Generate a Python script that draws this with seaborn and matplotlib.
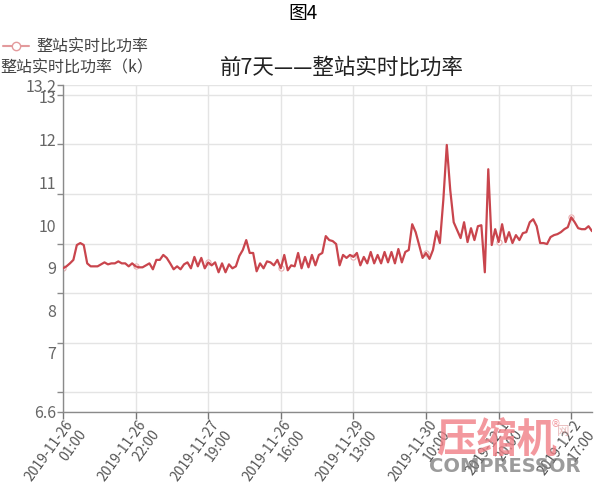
import matplotlib
matplotlib.use("Agg")
import matplotlib.pyplot as plt
import matplotlib.transforms as mtransforms
import seaborn as sns
import numpy as np
import pandas as pd
from matplotlib.ticker import FixedLocator, NullFormatter, FixedFormatter
from matplotlib.lines import Line2D

# ---- data (hourly whole-station specific power) ----
ratio = [
    9.50, 9.54, 9.60, 9.67, 9.97, 10.01, 9.97, 9.60, 9.54, 9.54,
    9.54, 9.58, 9.62, 9.58, 9.60, 9.60, 9.64, 9.60, 9.60, 9.54,
    9.60, 9.54, 9.52, 9.52, 9.56, 9.60, 9.48, 9.67, 9.67, 9.77,
    9.71, 9.60, 9.48, 9.54, 9.48, 9.58, 9.62, 9.50, 9.73, 9.54,
    9.71, 9.50, 9.62, 9.56, 9.62, 9.42, 9.60, 9.42, 9.58, 9.50,
    9.54, 9.75, 9.87, 10.07, 9.81, 9.81, 9.44, 9.60, 9.50, 9.64,
    9.62, 9.56, 9.67, 9.50, 9.77, 9.46, 9.56, 9.54, 9.81, 9.50,
    9.73, 9.52, 9.77, 9.56, 9.77, 9.81, 10.15, 10.07, 10.05, 9.99,
    9.56, 9.77, 9.71, 9.77, 9.73, 9.81, 9.56, 9.73, 9.60, 9.83,
    9.60, 9.77, 9.60, 9.83, 9.62, 9.83, 9.60, 9.89, 9.62, 9.83,
    9.87, 10.39, 10.23, 9.97, 9.71, 9.81, 9.69, 9.87, 10.25, 10.01,
    10.88, 11.99, 11.08, 10.43, 10.27, 10.11, 10.43, 10.03, 10.31, 10.07,
    10.35, 10.37, 9.42, 11.50, 9.97, 10.29, 10.03, 10.39, 10.03, 10.23,
    10.01, 10.17, 10.07, 10.21, 10.23, 10.43, 10.49, 10.35, 10.01, 10.01,
    9.99, 10.13, 10.17, 10.19, 10.23, 10.29, 10.33, 10.53, 10.43, 10.31,
    10.29, 10.29, 10.35, 10.25,
]
tick_labels = [
    "2019-11-26\n01:00", "2019-11-26\n22:00", "2019-11-27\n19:00",
    "2019-11-26\n16:00", "2019-11-29\n13:00", "2019-11-30\n10:00",
    "2019-12-1\n20:00", "2019-12-2\n17:00",
]
tick_step = 21
y_grid = [6.6, 7, 8, 9, 10, 11, 12, 13, 13.2]
y_label_text = ["6.6", "7", "8", "9", "10", "11", "12", "13", "13.2"]
y_label_pos = [6.6, 7.81, 8.65, 9.52, 10.37, 11.24, 12.09, 12.96, 13.2]

series_name = "整站实时比功率"
axis_name = "整站实时比功率（k）"
title = "前7天——整站实时比功率"
fig_title = "图4"

sns.set_theme(style="white")
plt.rcParams['font.family'] = ['Noto Sans CJK SC', 'DejaVu Sans']

W, H = 600, 495
fig = plt.figure(figsize=(W / 100, H / 100), dpi=100)
L, R, T, B = 63, 592, 85, 412
ax = fig.add_axes([L / W, 1 - B / H, (R - L) / W, (B - T) / H])

df = pd.DataFrame({"idx": np.arange(len(ratio)), "ratio": ratio})
sns.lineplot(data=df, x="idx", y="ratio", ax=ax, color="#c9454d",
             linewidth=1.6, zorder=3)
mk = df.iloc[::tick_step]
ax.scatter(mk["idx"], mk["ratio"], s=14, facecolor="white",
           edgecolor="#e8aeb0", linewidth=0.8, zorder=2)

ax.set_xlim(0, len(ratio) - 1)
ax.set_ylim(y_grid[0], y_grid[-1])
ax.set_xlabel("")
ax.set_ylabel("")

# y: gridlines/ticks at integer values, labels where the original draws them
ax.yaxis.remove_overlapping_locs = False
ax.yaxis.set_major_locator(FixedLocator(y_grid))
ax.yaxis.set_major_formatter(NullFormatter())
ax.yaxis.set_minor_locator(FixedLocator(y_label_pos))
ax.yaxis.set_minor_formatter(FixedFormatter(y_label_text))
ax.tick_params(axis="y", which="major", length=4, width=1, color="#8a8a8a",
               direction="out", left=True)
ax.tick_params(axis="y", which="minor", length=0, pad=5, labelsize=11.5,
               labelcolor="#666666", left=True)

# x ticks
xt = list(range(0, len(ratio), tick_step))[:len(tick_labels)]
ax.set_xticks(xt)
ax.set_xticklabels(tick_labels)
ax.tick_params(axis="x", which="major", length=5, width=1, color="#777777",
               direction="out", bottom=True, labelsize=10,
               labelcolor="#555555", pad=3)
shift = mtransforms.ScaledTranslation(2 / 100, 5 / 100, fig.dpi_scale_trans)
for lbl in ax.get_xticklabels():
    lbl.set_rotation(54)
    lbl.set_ha("right")
    lbl.set_va("top")
    lbl.set_rotation_mode("anchor")
    lbl.set_transform(lbl.get_transform() + shift)

ax.grid(True, which="major", axis="both", color="#e4e4e4", linewidth=1)
ax.grid(False, which="minor")
for s in ["top", "right"]:
    ax.spines[s].set_visible(False)
for s in ["left", "bottom"]:
    ax.spines[s].set_color("#8a8a8a")
    ax.spines[s].set_linewidth(1)

# texts
fig.text(303 / W, 1 - 13 / H, fig_title, ha="center", va="center",
         fontsize=13.5, color="black")
fig.text(342 / W, 1 - 68 / H, title, ha="center", va="center",
         fontsize=15.5, color="#222222")
fig.text(0, 1 - 68 / H, axis_name, ha="left", va="center",
         fontsize=11.5, color="#444444")
# legend
handle = Line2D([], [], color="#e39a9c", lw=1.5, marker="o", markersize=6,
                markerfacecolor="white", markeredgecolor="#e39a9c")
fig.legend(handles=[handle], labels=[series_name], loc="center left",
           bbox_to_anchor=(3 / W, 1 - 47 / H), frameon=False, fontsize=11.5,
           handlelength=1.6, handletextpad=0.5, borderpad=0, borderaxespad=0,
           labelcolor="#444444")

# watermark
fig.text(497 / W, 1 - 441 / H, "压缩机", ha="center", va="center",
         fontsize=29, fontweight="bold", color="#f07f86", alpha=0.8)
fig.text(505 / W, 1 - 467 / H, "COMPRESSOR", ha="center", va="center",
         fontsize=14, fontweight="bold", color="#7a7a7a", alpha=0.75,
         family="DejaVu Sans")
fig.text(555 / W, 1 - 424 / H, "®", ha="center", va="center",
         fontsize=7, color="#f07f86", alpha=0.8, family="DejaVu Sans")
fig.text(563 / W, 1 - 432 / H, "网", ha="center", va="center",
         fontsize=9, color="#e0a0a0", alpha=0.7)

fig.savefig("out.png", dpi=100)
